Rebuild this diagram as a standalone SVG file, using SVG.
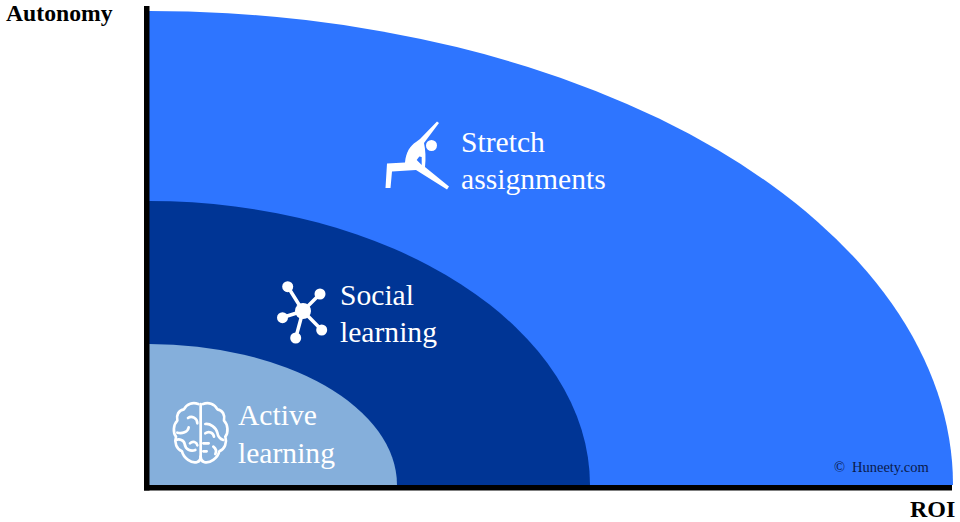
<svg xmlns="http://www.w3.org/2000/svg" width="960" height="522" viewBox="0 0 960 522">
<style>
.s{font-family:"Liberation Serif","Times New Roman",serif}
.l{font-size:29.600px;fill:#fff}
.a{font-weight:bold;fill:#000}
.ln{stroke:#fff;fill:none;stroke-linecap:round;stroke-linejoin:round}
</style>
<rect width="960" height="522" fill="#fff"/>
<g id="stretch">
<path d="M149 11A804 474 0 0 1 953 485H149Z" fill="#2e75ff"/>
<text class="s l" x="461" y="152">Stretch</text>
<text class="s l" x="461" y="189">assignments</text>
<circle cx="431.500" cy="145.500" r="5.500" fill="#fff"/>
<path fill-rule="evenodd" d="M437 121.500L439 123L424 143C425.500 150 426 158 425 167L449 186.500L447 189.500L416 170L392 171.500L390.500 188L385.500 188L387 163.500L405 162.500C406 152 410 146 416 142L420 139ZM419.300 156.500L416.700 160L421.700 165L421.700 157Z" fill="#fff"/>
</g>
<g id="social">
<path d="M149 201A441 284 0 0 1 590 485H149Z" fill="#003595"/>
<text class="s l" x="340" y="305">Social</text>
<text class="s l" x="340" y="342">learning</text>
<path class="ln" stroke-width="3.500" d="M303 311L288 287M303 311L320 294M303 311L282.500 317.500M303 311L295.700 338M303 311L321.700 330"/>
<g fill="#fff">
<circle cx="303" cy="311" r="8"/>
<circle cx="287.700" cy="286.700" r="5.500"/>
<circle cx="320" cy="294" r="5.500"/>
<circle cx="282.500" cy="317.700" r="5.500"/>
<circle cx="295.700" cy="338" r="5.500"/>
<circle cx="321.700" cy="330" r="5.500"/>
</g>
</g>
<g id="active">
<path d="M149 344A248 141 0 0 1 397 485H149Z" fill="#85afdb"/>
<text class="s l" x="238" y="425">Active</text>
<text class="s l" x="238" y="463">learning</text>
<g class="ln" stroke-width="8" transform="translate(160 390) scale(.3333)">
<path d="M122 42V200"/>
<path d="M115 42C100 36 80 40 72 58C56 60 48 76 52 92C40 104 38 128 48 140C42 158 50 178 66 184C70 204 95 222 112 216C118 214 122 208 122 200"/>
<path d="M129 42C144 36 164 40 172 58C188 60 196 76 192 92C204 104 206 128 196 140C202 158 194 178 178 184C174 204 149 222 132 216C126 214 122 208 122 200"/>
<path d="M84 84C95 76 112 84 112 100M52 128C66 132 84 126 86 112M48 150C58 146 72 150 74 162C76 178 92 186 106 180M90 160C98 152 110 156 112 166"/>
<path d="M136 102C150 100 168 112 172 128C174 140 178 146 190 150M136 130C146 122 160 128 162 140M160 170C168 176 170 184 166 192M130 160H146M130 184H140"/>
</g>
</g>
<g id="axes" fill="#000">
<rect x="144" y="6" width="5.500" height="484.500"/>
<rect x="144" y="485" width="808" height="5.500"/>
</g>
<text class="s a" x="6" y="21" font-size="23.700">Autonomy</text>
<text class="s a" x="910" y="517" font-size="24">ROI</text>
<text class="s" x="834" y="472" font-size="14.500" fill="#0a1a4a">©</text>
<text class="s" x="852" y="472" font-size="14.500" fill="#0a1a4a">Huneety.com</text>
</svg>
